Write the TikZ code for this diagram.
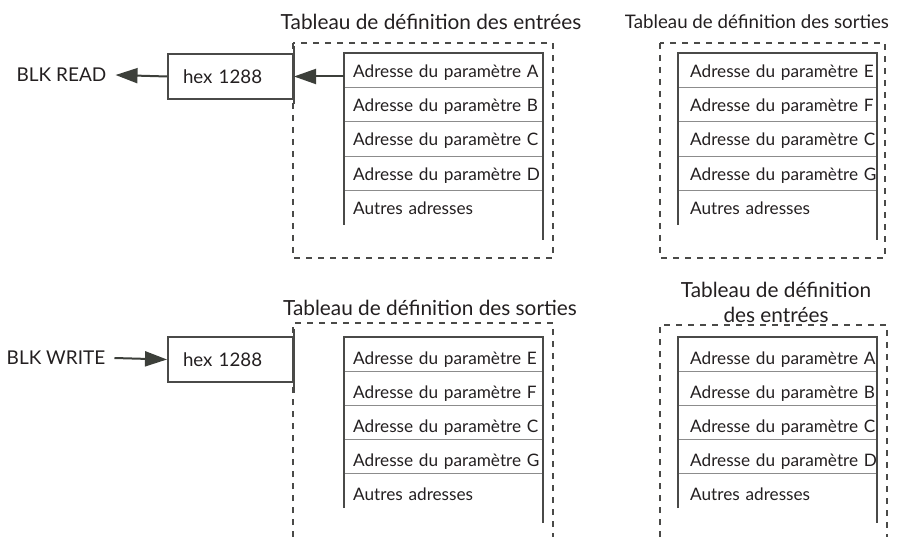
\documentclass[tikz,border=0pt]{standalone}
\usepackage{fontspec}
\setmainfont{Lato}
\usetikzlibrary{arrows.meta,positioning}
\definecolor{ink}{HTML}{231F20}
\definecolor{rulec}{HTML}{4A4A48}
\definecolor{sepc}{HTML}{8C8C8C}
\definecolor{tipc}{HTML}{3C3F3A}
\tikzset{
  cell/.style={minimum width=199pt, minimum height=34pt, inner sep=0pt,
    text width=199pt, text height=18pt, text depth=4pt, align=left,
    font=\fontsize{17.2}{20}\selectfont, text=ink,
    execute at begin node={\hspace*{#1}}},
  cell/.default=9pt,
  cellb/.style={cell=#1, minimum height=33.8pt, text height=24pt},
  cellb/.default=9pt,
  sepline/.style={draw=sepc, line width=1pt},
  frame/.style={draw=rulec, line width=2pt},
  dashbox/.style={draw=rulec, line width=1.6pt, dash pattern=on 6pt off 6pt},
  hexbox/.style={frame, minimum width=125pt, minimum height=45pt, inner xsep=15pt,
    text width=95pt, align=left, font=\fontsize{18.7}{22}\selectfont, text=ink},
  lbl/.style={inner xsep=9pt, font=\fontsize{19}{22}\selectfont, text=ink},
  title/.style={font=\fontsize{20.8}{25}\selectfont, text=ink, align=center},
  arrow/.style={draw=tipc, line width=2pt, -{Triangle[length=22pt,width=15pt]}}
}
\begin{document}
\begin{tikzpicture}[x=1pt,y=-1pt]
  \useasboundingbox (0,0) rectangle (897,537);

  \node[title] (t1) at (431,22) {Tableau de définition des entrées};
  \node[title, font=\fontsize{18.7}{22}\selectfont] (t2) at (757,22) {Tableau de définition des sorties};
  \node[title] (t3) at (430,308) {Tableau de définition des sorties};
  \node[title] (t4) at (776,302) {Tableau de définition\\des entrées};

  \draw[dashbox] (293,43) rectangle (553,258);
  \draw[dashbox] (660,43) rectangle (885,258);
  \draw[dashbox] (293,537) -- (293,323) -- (553,323) -- (553,537);
  \draw[dashbox] (660,537) -- (660,325) -- (887,325) -- (887,537);

  \node[cell, anchor=north west] (ia1) at (344,53) {Adresse du paramètre A};
  \node[cell, below=0pt of ia1] (ia2) {Adresse du paramètre B};
  \node[cell, below=0pt of ia2] (ia3) {Adresse du paramètre C};
  \node[cell, below=0pt of ia3] (ia4) {Adresse du paramètre D};
  \node[cell, below=0pt of ia4] (ia5) {Autres adresses};

  \node[cell=12pt, anchor=north west] (oa1) at (678,53) {Adresse du paramètre E};
  \node[cell=12pt, below=0pt of oa1] (oa2) {Adresse du paramètre F};
  \node[cell=12pt, below=0pt of oa2] (oa3) {Adresse du paramètre C};
  \node[cell=12pt, below=0pt of oa3] (oa4) {Adresse du paramètre G};
  \node[cell=12pt, below=0pt of oa4] (oa5) {Autres adresses};

  \node[cellb, anchor=north west] (ob1) at (344,337) {Adresse du paramètre E};
  \node[cellb, below=0pt of ob1] (ob2) {Adresse du paramètre F};
  \node[cellb, below=0pt of ob2] (ob3) {Adresse du paramètre C};
  \node[cellb, below=0pt of ob3] (ob4) {Adresse du paramètre G};
  \node[cellb, below=0pt of ob4] (ob5) {Autres adresses};

  \node[cellb=12pt, anchor=north west] (ib1) at (678,337) {Adresse du paramètre A};
  \node[cellb=12pt, below=0pt of ib1] (ib2) {Adresse du paramètre B};
  \node[cellb=12pt, below=0pt of ib2] (ib3) {Adresse du paramètre C};
  \node[cellb=12pt, below=0pt of ib3] (ib4) {Adresse du paramètre D};
  \node[cellb=12pt, below=0pt of ib4] (ib5) {Autres adresses};

  \draw[sepline] (ia1.south west) -- (ia1.south east);
  \draw[sepline] (ia2.south west) -- (ia2.south east);
  \draw[sepline] (ia3.south west) -- (ia3.south east);
  \draw[sepline] (ia4.south west) -- (ia4.south east);
  \draw[sepline] (oa1.south west) -- (oa1.south east);
  \draw[sepline] (oa2.south west) -- (oa2.south east);
  \draw[sepline] (oa3.south west) -- (oa3.south east);
  \draw[sepline] (oa4.south west) -- (oa4.south east);
  \draw[sepline] (ob1.south west) -- (ob1.south east);
  \draw[sepline] (ob2.south west) -- (ob2.south east);
  \draw[sepline] (ob3.south west) -- (ob3.south east);
  \draw[sepline] (ob4.south west) -- (ob4.south east);
  \draw[sepline] (ib1.south west) -- (ib1.south east);
  \draw[sepline] (ib2.south west) -- (ib2.south east);
  \draw[sepline] (ib3.south west) -- (ib3.south east);
  \draw[sepline] (ib4.south west) -- (ib4.south east);

  \draw[frame] (ia5.south west) -- (ia1.north west) -- (ia1.north east) -- ([yshift=-15pt]ia5.south east);
  \draw[frame] (oa5.south west) -- (oa1.north west) -- (oa1.north east) -- ([yshift=-15pt]oa5.south east);
  \draw[frame] (ob5.south west) -- (ob1.north west) -- (ob1.north east) -- ([yshift=-15pt]ob5.south east);
  \draw[frame] (ib5.south west) -- (ib1.north west) -- (ib1.north east) -- ([yshift=-15pt]ib5.south east);

  \node[hexbox] (hr) at (230.5,76.5) {hex 1288};
  \node[hexbox] (hw) at (230.5,359.5) {hex 1288};
  \draw[frame] ([yshift=7pt]hr.north east) -- ([yshift=-4pt]hr.south east);
  \draw[frame] ([yshift=7pt]hw.north east) -- ([yshift=-10pt]hw.south east);

  \node[lbl] (read) at (61.5,75) {BLK READ};
  \node[lbl] (write) at (56,358) {BLK WRITE};

  \draw[arrow] (ia1.west |- hr.east) -- (hr.east);
  \draw[arrow] (hr.west) -- (read.east);
  \draw[arrow] (write.east) -- (hw.west);
\end{tikzpicture}
\end{document}
